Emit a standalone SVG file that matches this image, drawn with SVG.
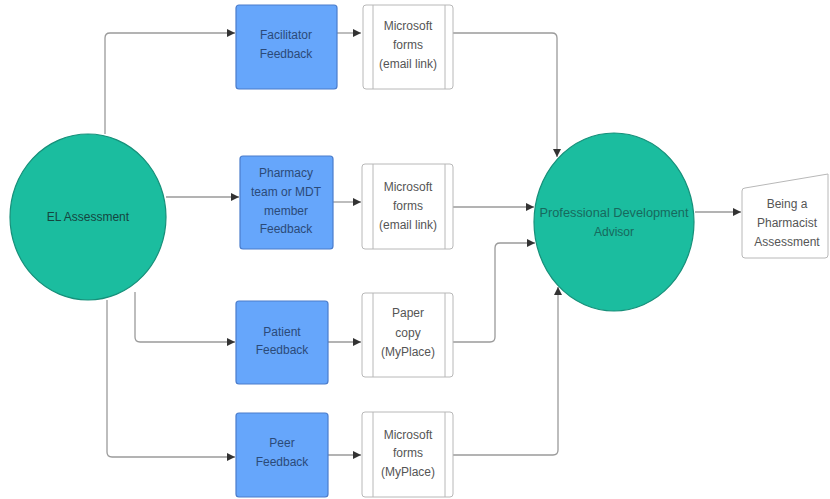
<svg xmlns="http://www.w3.org/2000/svg" width="830" height="499" viewBox="0 0 830 499">
  <defs>
    <marker id="arrow" viewBox="0 0 10 10" refX="10" refY="5" markerWidth="8" markerHeight="8" markerUnits="userSpaceOnUse" orient="auto">
      <path d="M0,0 L10,5 L0,10 z" fill="#333"/>
    </marker>
    <style>
      text { font-family: "Liberation Sans", Arial, sans-serif; font-size: 12px; text-anchor: middle; }
      .feedback rect { fill: #66a6fb; stroke: #4a7ccc; stroke-width: 1.2; }
      .feedback text { fill: #2b4a78; }
      .channel rect { fill: #ffffff; stroke: #b8b8b8; stroke-width: 1; }
      .channel line { stroke: #b8b8b8; stroke-width: 1; }
      .channel text { fill: #555; }
      .hub ellipse { fill: #1bbd9f; stroke: #17907a; stroke-width: 1.2; }
      .conn { fill: none; stroke: #9a9a9a; stroke-width: 1.3; marker-end: url(#arrow); }
    </style>
  </defs>
  <rect width="830" height="499" fill="#ffffff"/>

  <!-- connectors -->
  <g id="connectors">
    <path class="conn" d="M105,134 L105,38 Q105,33 110,33 L235,33"/>
    <path class="conn" d="M166,197 L239,197"/>
    <path class="conn" d="M135,292 L135,337 Q135,342 140,342 L235,342"/>
    <path class="conn" d="M107,300 L107,452 Q107,457 112,457 L235,457"/>
    <path class="conn" d="M337,33 L361,33"/>
    <path class="conn" d="M333,202 L361,202"/>
    <path class="conn" d="M328,342 L361,342"/>
    <path class="conn" d="M328,455 L361,455"/>
    <path class="conn" d="M453,33 L552,33 Q557,33 557,38 L557,157"/>
    <path class="conn" d="M453,207 L534,207"/>
    <path class="conn" d="M453,342 L490,342 Q495,342 495,337 L495,248 Q495,243 500,243 L535,243"/>
    <path class="conn" d="M453,455 L553,455 Q558,455 558,450 L558,287"/>
    <path class="conn" d="M695,212 L741,212"/>
  </g>

  <!-- start -->
  <g id="el-assessment" class="hub">
    <ellipse cx="88" cy="217" rx="78" ry="83"/>
    <text x="88" y="221" fill="#15463f">EL Assessment</text>
  </g>

  <!-- feedback sources -->
  <g id="facilitator-feedback" class="feedback">
    <rect x="236" y="5" width="101" height="84" rx="3"/>
    <text x="286" y="39">Facilitator</text>
    <text x="286" y="58">Feedback</text>
  </g>
  <g id="pharmacy-feedback" class="feedback">
    <rect x="240" y="156" width="93" height="93" rx="3"/>
    <text x="286" y="177">Pharmacy</text>
    <text x="286" y="196">team or MDT</text>
    <text x="286" y="215">member</text>
    <text x="286" y="233">Feedback</text>
  </g>
  <g id="patient-feedback" class="feedback">
    <rect x="236" y="301" width="92" height="83" rx="3"/>
    <text x="282" y="336">Patient</text>
    <text x="282" y="354">Feedback</text>
  </g>
  <g id="peer-feedback" class="feedback">
    <rect x="236" y="413" width="92" height="84" rx="3"/>
    <text x="282" y="447">Peer</text>
    <text x="282" y="466">Feedback</text>
  </g>

  <!-- collection channels -->
  <g id="forms-facilitator" class="channel">
    <rect x="363" y="5" width="90" height="84" rx="3"/>
    <line x1="373" y1="5" x2="373" y2="89"/>
    <line x1="445" y1="5" x2="445" y2="89"/>
    <text x="408" y="30">Microsoft</text>
    <text x="408" y="49">forms</text>
    <text x="408" y="68">(email link)</text>
  </g>
  <g id="forms-pharmacy" class="channel">
    <rect x="362" y="164" width="91" height="85" rx="3"/>
    <line x1="373" y1="164" x2="373" y2="249"/>
    <line x1="445" y1="164" x2="445" y2="249"/>
    <text x="408" y="191">Microsoft</text>
    <text x="408" y="210">forms</text>
    <text x="408" y="229">(email link)</text>
  </g>
  <g id="paper-patient" class="channel">
    <rect x="362" y="293" width="91" height="84" rx="3"/>
    <line x1="373" y1="293" x2="373" y2="377"/>
    <line x1="445" y1="293" x2="445" y2="377"/>
    <text x="408" y="317">Paper</text>
    <text x="408" y="337">copy</text>
    <text x="408" y="356">(MyPlace)</text>
  </g>
  <g id="forms-peer" class="channel">
    <rect x="362" y="412" width="91" height="85" rx="3"/>
    <line x1="373" y1="412" x2="373" y2="497"/>
    <line x1="445" y1="412" x2="445" y2="497"/>
    <text x="408" y="439">Microsoft</text>
    <text x="408" y="457">forms</text>
    <text x="408" y="476">(MyPlace)</text>
  </g>

  <!-- reviewer -->
  <g id="pda" class="hub">
    <ellipse cx="614" cy="222" rx="80" ry="89"/>
    <text x="614" y="217" fill="#17695d" textLength="149" lengthAdjust="spacingAndGlyphs">Professional Development</text>
    <text x="614" y="236" fill="#17695d">Advisor</text>
  </g>

  <!-- outcome -->
  <g id="being-a-pharmacist" class="channel">
    <path d="M742,191 Q742,188 745,188 L828,174 L828,255 Q828,258 825,258 L745,258 Q742,258 742,255 Z" fill="#ffffff" stroke="#b8b8b8" stroke-width="1"/>
    <text x="787" y="208">Being a</text>
    <text x="787" y="227">Pharmacist</text>
    <text x="787" y="246">Assessment</text>
  </g>
</svg>
